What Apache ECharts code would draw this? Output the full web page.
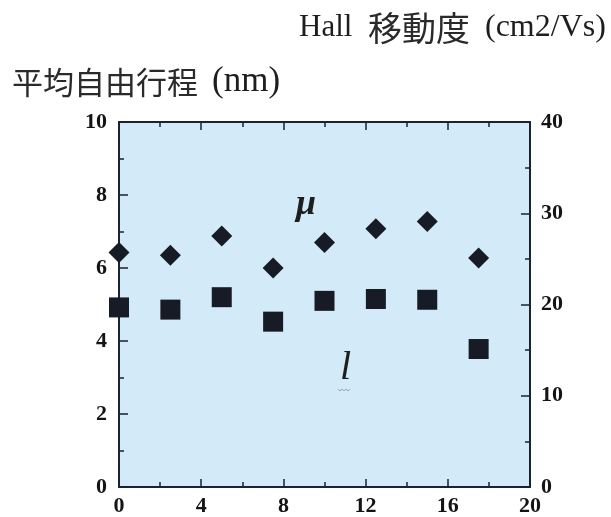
<!DOCTYPE html>
<html>
<head>
<meta charset="utf-8">
<script src="https://cdn.jsdelivr.net/npm/echarts@6/dist/echarts.min.js"></script>
<style>
html,body{margin:0;padding:0;background:#fff;}
#chart{width:611px;height:517px;}
</style>
</head>
<body>
<div id="chart"></div>
<script>
// Data
const xValues = [0, 2.5, 5, 7.5, 10, 12.5, 15, 17.5];
const muValues = [25.7, 25.4, 27.5, 24.0, 26.8, 28.3, 29.1, 25.1];   // Hall mobility (cm2/Vs), right axis
const lValues = [4.92, 4.86, 5.20, 4.53, 5.10, 5.15, 5.13, 3.78];    // mean free path (nm), left axis
const titleRightLatin = 'Hall';
const titleRightCJK = '移動度';
const titleRightUnit = '(cm2/Vs)';
const titleLeftCJK = '平均自由行程';
const titleLeftUnit = '(nm)';
const muLabel = 'μ';
const lLabel = 'l';

const AX = '#1b2232';
const MK = '#161b26';
const serif = "'Liberation Serif',serif";
const cjk = "'Noto Sans CJK JP',sans-serif";

const chart = echarts.init(document.getElementById('chart'), null, {renderer: 'canvas'});

const labelStyle = {color: '#141414', fontFamily: serif, fontWeight: 'bold', fontSize: 22};
function axisCommon(majorLen) {
  return {
    axisLine: {show: true, onZero: false, lineStyle: {color: AX, width: 2}},
    axisTick: {show: true, inside: true, length: majorLen, lineStyle: {color: AX, width: 1.5}},
    minorTick: {show: true, splitNumber: 2, length: 5, lineStyle: {color: AX, width: 1.5}},
    splitLine: {show: false}
  };
}

chart.setOption({
  animation: false,
  grid: {left: 119, right: 81, top: 122, bottom: 28, show: true, backgroundColor: '#d3ebf8', borderWidth: 0},
  xAxis: [
    Object.assign({type: 'value', min: 0, max: 20, interval: 4, position: 'bottom',
     axisLabel: Object.assign({margin: 8}, labelStyle)}, axisCommon(8)),
    Object.assign({type: 'value', min: 0, max: 20, interval: 4, position: 'top',
     axisLabel: {show: false}}, axisCommon(8))
  ],
  yAxis: [
    Object.assign({type: 'value', min: 0, max: 10, interval: 2, position: 'left',
     axisLabel: Object.assign({margin: 12}, labelStyle)}, axisCommon(9)),
    Object.assign({type: 'value', min: 0, max: 40, interval: 10, position: 'right',
     axisLabel: Object.assign({margin: 11}, labelStyle)}, axisCommon(9))
  ],
  series: [
    {type: 'scatter', name: 'mu', xAxisIndex: 0, yAxisIndex: 1, symbol: 'diamond', symbolSize: 21,
     itemStyle: {color: MK, opacity: 1}, data: xValues.map((x, i) => [x, muValues[i]]), z: 5},
    {type: 'scatter', name: 'l', xAxisIndex: 0, yAxisIndex: 0, symbol: 'rect', symbolSize: 20,
     itemStyle: {color: MK, opacity: 1}, data: xValues.map((x, i) => [x, lValues[i]]), z: 5}
  ],
  graphic: [
    {type: 'text', x: 299, y: 28, style: {text: titleRightLatin, font: "31px " + serif, fill: '#1e1e1e', verticalAlign: 'middle'}},
    {type: 'text', x: 368, y: 28, style: {text: titleRightCJK, font: "34px " + cjk, fill: '#2a2a2a', verticalAlign: 'middle'}},
    {type: 'text', x: 485, y: 28, style: {text: titleRightUnit, font: "32px " + serif, fill: '#1e1e1e', verticalAlign: 'middle'}},
    {type: 'text', x: 12, y: 82, style: {text: titleLeftCJK, font: "31px " + cjk, fill: '#2a2a2a', verticalAlign: 'middle'}},
    {type: 'text', x: 212, y: 82, style: {text: titleLeftUnit, font: "35px " + serif, fill: '#1e1e1e', verticalAlign: 'middle'}},
    {type: 'text', x: 296, y: 205, style: {text: muLabel, font: "italic bold 36px " + serif, fill: '#1e1e1e', verticalAlign: 'middle'}},
    {type: 'text', x: 340, y: 368, style: {text: lLabel, font: "italic 40px " + serif, fill: '#1e1e1e', verticalAlign: 'middle'}},
    {type: 'polyline', shape: {points: [[338,389],[340,391],[342,389],[344,391],[346,389],[348,391],[350,389]]},
     style: {stroke: '#9aa3ad', lineWidth: 1, fill: null}}
  ]
});
</script>
</body>
</html>
